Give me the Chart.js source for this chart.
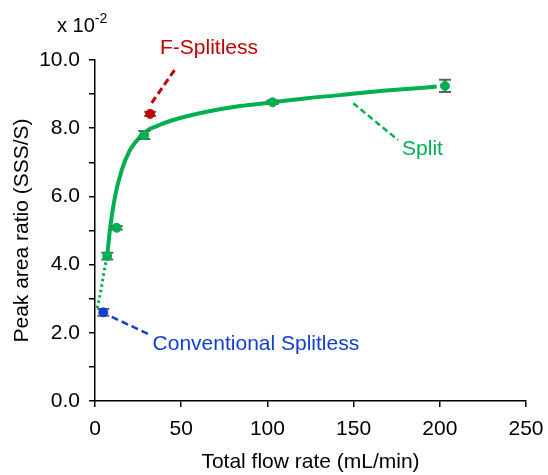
<!DOCTYPE html>
<html><head><meta charset="utf-8">
<script src="https://cdn.jsdelivr.net/npm/chart.js@4/dist/chart.umd.min.js"></script>
<style>html,body{margin:0;padding:0;background:#fff}#wrap{width:548px;height:475px;position:relative}</style>
</head><body><div id="wrap"><canvas id="c" width="548" height="475"></canvas></div>
<script>
// ---- data (x: total flow rate mL/min, y: peak area ratio x 10^-2) ----
const splitX = [7.1, 12.6, 28.6, 103, 203];
const splitY = [4.25, 5.08, 7.80, 8.76, 9.24];
const splitErr = [0.10, 0.05, 0.12, 0.05, 0.18];

const fSplitlessX = [32.0];
const fSplitlessY = [8.42];
const fSplitlessErr = [0.06];

const convX = [4.8];
const convY = [2.60];
const convErr = [0.10];

// fitted curve
const fitX = [7.1, 8.7, 11.6, 15.5, 20.3, 26.1, 30.9, 34.8, 45.4, 64.8, 84.1, 103.4, 122.8, 142.1, 161.4, 180.8, 198.2];
const fitY = [4.25, 5.04, 5.99, 6.77, 7.36, 7.75, 7.95, 8.04, 8.24, 8.48, 8.65, 8.76, 8.88, 8.97, 9.07, 9.15, 9.22];
// dotted extrapolation
const extrapX = [1.3, 2.3, 3.5, 4.8, 5.8, 7.1];
const extrapY = [2.72, 2.96, 3.26, 3.65, 3.94, 4.25];

// leader lines for labels (data units)
const fLeaderX = [32.9, 47.4], fLeaderY = [8.74, 9.80];
const sLeaderX = [149.8, 175.9], sLeaderY = [8.73, 7.65];
const cLeaderX = [9.7, 30.9], cLeaderY = [2.47, 1.96];

const labelTexts = ['F-Splitless', 'Split', 'Conventional Splitless'];
const labelX = [37.7, 178.1, 33.4];
const labelY = [10.35, 7.38, 1.67];

const xTickValues = [0, 50, 100, 150, 200, 250];
const yTickLabels = ['0.0', '2.0', '4.0', '6.0', '8.0', '10.0'];

const GREEN = '#00b050', RED = '#c00000', BLUE = '#1040d0';
const FONT = "'Liberation Sans', Arial, sans-serif";

const pts = (xs, ys) => xs.map((x, i) => ({x, y: ys[i]}));

const errPlugin = {
  id: 'errbars',
  afterDatasetDraw(chart, args) {
    if (chart.data.datasets[args.index].label !== 'Fit') return;
    const {ctx, scales: {x, y}} = chart;
    ctx.save();
    ctx.strokeStyle = '#606060';
    ctx.lineWidth = 2;
    const sets = [[splitX, splitY, splitErr], [fSplitlessX, fSplitlessY, fSplitlessErr], [convX, convY, convErr]];
    sets.forEach(([xs, ys, es]) => {
      xs.forEach((v, i) => {
        const px = x.getPixelForValue(v);
        const p1 = y.getPixelForValue(ys[i] + es[i]);
        const p2 = y.getPixelForValue(ys[i] - es[i]);
        ctx.beginPath();
        ctx.moveTo(px, p1); ctx.lineTo(px, p2);
        ctx.moveTo(px - 6, p1); ctx.lineTo(px + 6, p1);
        ctx.moveTo(px - 6, p2); ctx.lineTo(px + 6, p2);
        ctx.stroke();
      });
    });
    ctx.restore();
  }
};

const textPlugin = {
  id: 'texts',
  afterDraw(chart) {
    const {ctx, scales: {x, y}, chartArea} = chart;
    ctx.save();
    const colors = [RED, GREEN, BLUE];
    ctx.font = '21px ' + FONT;
    ctx.textBaseline = 'middle';
    ctx.textAlign = 'left';
    labelTexts.forEach((t, i) => {
      ctx.fillStyle = colors[i];
      ctx.fillText(t, x.getPixelForValue(labelX[i]), y.getPixelForValue(labelY[i]));
    });
    // exponent label
    ctx.fillStyle = '#000';
    ctx.font = '20px ' + FONT;
    const bx = chartArea.left - 38, by = chartArea.top - 34;
    ctx.fillText('x 10', bx, by);
    const w = ctx.measureText('x 10').width;
    ctx.font = '14px ' + FONT;
    ctx.fillText('-2', bx + w, by - 7);
    ctx.restore();
  }
};

new Chart(document.getElementById('c'), {
  type: 'scatter',
  data: {
    datasets: [
      {label: 'Split', data: pts(splitX, splitY), backgroundColor: GREEN, borderColor: GREEN, pointRadius: 4.5, showLine: false, order: 0},
      {label: 'F-Splitless', data: pts(fSplitlessX, fSplitlessY), backgroundColor: RED, borderColor: RED, pointRadius: 4.5, showLine: false, order: 0},
      {label: 'Conventional Splitless', data: pts(convX, convY), backgroundColor: BLUE, borderColor: BLUE, pointRadius: 4.5, showLine: false, order: 0},
      {label: 'Fit', data: pts(fitX, fitY), borderColor: GREEN, borderWidth: 4, pointRadius: 0, showLine: true, cubicInterpolationMode: 'monotone', order: 1},
      {label: 'Extrap', data: pts(extrapX, extrapY), borderColor: GREEN, borderWidth: 3, borderDash: [2.5, 3], pointRadius: 0, showLine: true, cubicInterpolationMode: 'monotone', order: 2},
      {label: 'fLead', data: pts(fLeaderX, fLeaderY), borderColor: RED, borderWidth: 3, borderDash: [7, 4], pointRadius: 0, showLine: true, order: 3},
      {label: 'sLead', data: pts(sLeaderX, sLeaderY), borderColor: GREEN, borderWidth: 2.5, borderDash: [6, 3.5], pointRadius: 0, showLine: true, order: 3},
      {label: 'cLead', data: pts(cLeaderX, cLeaderY), borderColor: BLUE, borderWidth: 2.5, borderDash: [7, 4], pointRadius: 0, showLine: true, order: 3}
    ]
  },
  options: {
    responsive: false,
    animation: false,
    devicePixelRatio: 1,
    layout: {padding: {left: 0, top: 60, right: 22, bottom: 0}},
    plugins: {legend: {display: false}, tooltip: {enabled: false}},
    scales: {
      x: {
        type: 'linear', min: 0, max: 250,
        afterBuildTicks: s => { s.ticks = xTickValues.map(v => ({value: v})); },
        afterFit: s => { s.height = 74; s.paddingRight = 0; s.paddingLeft = 0; },
        ticks: {color: '#000', font: {family: FONT, size: 21}, padding: 10, callback: v => String(v)},
        grid: {drawOnChartArea: false, drawTicks: true, tickLength: 6, color: '#000', lineWidth: 1.5},
        border: {color: '#000', width: 1.5},
        title: {display: true, text: 'Total flow rate (mL/min)', color: '#000', font: {family: FONT, size: 21}, padding: {top: 0, bottom: 0}}
      },
      y: {
        type: 'linear', min: 0, max: 10,
        afterFit: s => { s.width = 95; },
        ticks: {stepSize: 1, color: '#000', font: {family: FONT, size: 21}, padding: 9,
          callback: v => (Math.round(v) % 2 === 0 ? yTickLabels[Math.round(v) / 2] : '')},
        grid: {drawOnChartArea: false, drawTicks: true, tickLength: 6, color: '#000', lineWidth: 1.5},
        border: {color: '#000', width: 1.5},
        title: {display: true, text: 'Peak area ratio (SSS/S)', color: '#000', font: {family: FONT, size: 21}, padding: {top: 10, bottom: 0}}
      }
    }
  },
  plugins: [errPlugin, textPlugin]
});
</script>
</body></html>
